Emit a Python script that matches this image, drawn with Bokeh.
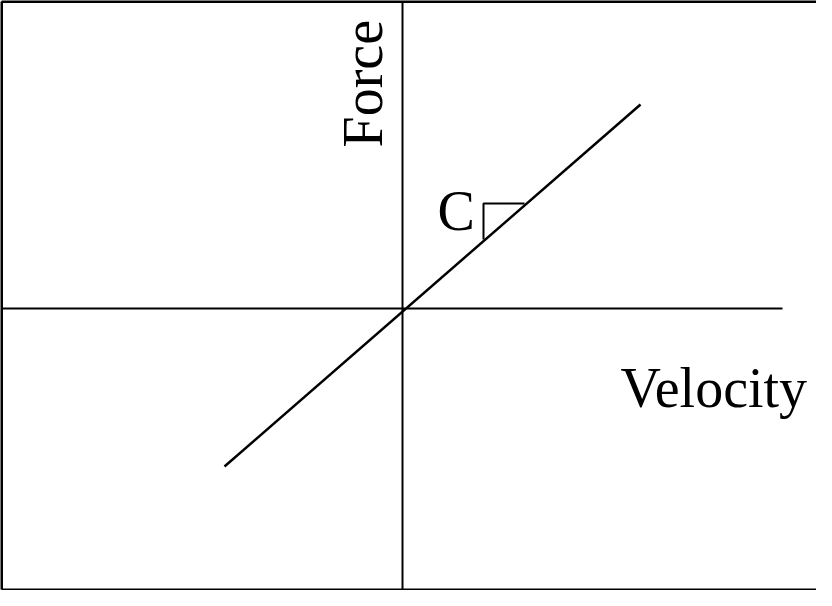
from bokeh.plotting import figure
from bokeh.embed import file_html
from bokeh.resources import INLINE
from bokeh.core.properties import value
import math

# Schematic data (units relative to the axis origin)
line_velocity = [-178, 238]
line_force = [-158, 204]

tri_velocity = [81, 81, 122]
tri_force = [69, 105, 105]

h_axis_velocity = [-400, 380]
v_axis_force = [306, -290]

frame_x = [-401, -401]
frame_top = [308, 308]
frame_left_x = [-401, -401]

labels_text = ["Velocity", "C"]
labels_x = [218, 35]
labels_y = [-79, 98]

force_label = ["Force"]
force_x = [-40]
force_y = [161]

p = figure(width=816, height=590, x_range=(-402, 414), y_range=(-282, 308),
           output_backend="svg", toolbar_location=None, min_border=0)
p.axis.visible = False
p.grid.visible = False
p.outline_line_color = None
p.background_fill_color = "white"
p.border_fill_color = "white"

font = value("Liberation Serif")

# frame (top, left, bottom)
p.line(x=[-401, 414], y=[307, 307], line_color="black", line_width=3)
p.line(x=[-401, -401], y=[307, -281], line_color="black", line_width=3)
p.line(x=[-401, 414], y=[-281, -281], line_color="black", line_width=2)

# axes
p.line(x=h_axis_velocity, y=[0, 0], line_color="black", line_width=2)
p.line(x=[0, 0], y=v_axis_force, line_color="black", line_width=2)

# characteristic line
p.line(x=line_velocity, y=line_force, line_color="black", line_width=2.5)

# slope triangle
p.line(x=tri_velocity, y=tri_force, line_color="black", line_width=2)

p.text(x=labels_x, y=labels_y, text=labels_text, text_font=font,
       text_font_size="56px", text_color="black",
       text_align="left", text_baseline="alphabetic")

p.text(x=force_x, y=force_y, text=force_label, text_font=font,
       text_font_size="56px", text_color="black", angle=math.pi / 2,
       text_align="left", text_baseline="alphabetic")

open("out.html", "w").write(file_html(p, INLINE))
